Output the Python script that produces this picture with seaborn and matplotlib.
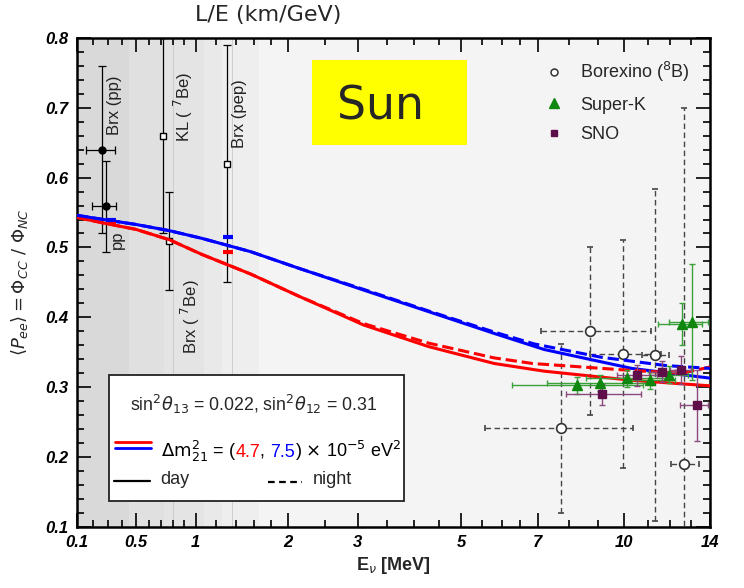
import matplotlib
matplotlib.use('Agg')
import matplotlib.pyplot as plt
import numpy as np
import pandas as pd
import seaborn as sns
from matplotlib.lines import Line2D
from matplotlib.patches import Rectangle
from matplotlib.transforms import IdentityTransform

sns.set_theme(style='ticks')
plt.rcParams['font.family'] = ['Liberation Sans', 'DejaVu Sans']
plt.rcParams['mathtext.fontset'] = 'dejavusans'

# 1. Data (E in MeV, P_ee)
# MSW curves, day (solid) and night (dashed)
day_E = [0.1, 0.27, 0.5, 0.77, 1.06, 1.56, 2.15, 3.1, 4.3, 5.8, 7.2, 10.3, 14.0]
red_day = [0.543, 0.535, 0.526, 0.511, 0.490, 0.462, 0.430, 0.389, 0.358, 0.334, 0.323, 0.310, 0.302]
blue_day = [0.546, 0.540, 0.533, 0.524, 0.513, 0.494, 0.470, 0.439, 0.408, 0.377, 0.354, 0.327, 0.313]

red_night_E = [0.1, 0.27, 0.5, 0.77, 1.06, 1.56, 2.15, 3.1, 4.3, 5.8, 6.85, 10.3, 12.55, 14.0]
red_night = [0.543, 0.535, 0.526, 0.511, 0.490, 0.462, 0.430, 0.391, 0.363, 0.342, 0.334, 0.324, 0.320, 0.329]
blue_night_E = [0.1, 0.27, 0.5, 0.77, 1.06, 1.56, 2.15, 3.1, 4.3, 5.8, 6.9, 9.1, 11.8, 14.0]
blue_night = [0.546, 0.540, 0.533, 0.524, 0.513, 0.494, 0.470, 0.440, 0.409, 0.379, 0.362, 0.343, 0.331, 0.327]

# averaged predictions at pp and pep (short thick bars)
pred_E = [0.32, 1.315]
pred_xerr = [0.035, 0.05]
pred_red = [0.536, 0.493]
pred_blue = [0.540, 0.5155]

# Borexino pp (filled circles)
pp_E = [0.258, 0.29]
pp_P = [0.640, 0.559]
pp_yerr = [0.12, 0.065]
pp_xlo = [0.10, 0.094]
pp_xhi = [0.09, 0.07]

# KamLAND 7Be, Borexino 7Be, Borexino pep (open squares)
sq_E = [0.716, 0.765, 1.31]
sq_P = [0.660, 0.509, 0.620]
sq_yerr = [0.14, 0.07, 0.17]

# Borexino 8B
bx_E = [8.70, 9.95, 7.74, 12.65, 11.32]
bx_P = [0.380, 0.348, 0.241, 0.190, 0.346]
bx_yerr = [0.12, 0.163, 0.121, 0.51, 0.238]
bx_xlo = [1.59, 1.23, 2.17, 0.61, 0.6]
bx_xhi = [2.44, 1.63, 2.61, 0.76, 0.6]

# Super-K
sk_E = [8.26, 9.08, 10.1, 11.07, 11.92, 12.54, 13.05]
sk_P = [0.303, 0.306, 0.313, 0.310, 0.318, 0.390, 0.393]
sk_yerr = [0.012, 0.012, 0.012, 0.012, 0.012, 0.030, 0.083]
sk_xlo = [2.0, 1.78, 1.55, 1.06, 0.85, 1.10, 1.09]
sk_xhi = [2.5, 2.1, 1.8, 1.15, 0.92, 1.01, 0.85]

# SNO
sno_E = [9.16, 10.51, 11.63, 12.5, 13.31]
sno_P = [0.290, 0.317, 0.322, 0.325, 0.274]
sno_yerr = [0.015, 0.015, 0.015, 0.02, 0.051]
sno_xlo = [1.26, 0.8, 0.6, 0.5, 0.86]
sno_xhi = [1.53, 0.9, 0.6, 0.5, 0.56]

# shaded energy bands (low-energy region)
band_edges = [0.1, 0.45, 0.72, 1.08, 1.26, 1.65]
band_colors = ['#d9d9d9', '#e0e0e0', '#e4e4e4', '#e9e9e9', '#eeeeee']
guide_E = [0.80, 1.36]

x_ticks = [0.1, 0.5, 1, 2, 3, 5, 7, 10, 14]
x_ticklabels = ['0.1', '0.5', '1', '2', '3', '5', '7', '10', '14']
x_minor = [0.2, 0.3, 0.4, 0.6, 0.7, 0.8, 0.9, 1.2, 1.4, 1.6, 1.8, 2.5,
           3.5, 4, 4.5, 5.5, 6, 6.5, 8, 9, 11, 12, 13]
y_ticks = [0.1, 0.2, 0.3, 0.4, 0.5, 0.6, 0.7, 0.8]

dm_values = ['4.7', '7.5']


# 2. Axis scale: roughly logarithmic, compressed at low energy
def fwd(e):
    return np.log10(np.maximum(np.asarray(e, dtype=float) + 1.7, 1e-9))


def inv(v):
    return 10 ** np.asarray(v, dtype=float) - 1.7


fig = plt.figure(figsize=(7.44, 5.88), dpi=100)
fig.patch.set_facecolor('white')
ax = fig.add_axes([0.1035, 0.1037, 0.851, 0.832])
ax.set_xscale('function', functions=(fwd, inv))
ax.set_xlim(0.1, 14)
ax.set_ylim(0.1, 0.8)
ax.set_facecolor('#f4f4f4')

for lo, hi, c in zip(band_edges[:-1], band_edges[1:], band_colors):
    ax.axvspan(lo, hi, color=c, lw=0, zorder=0)
for e in guide_E:
    ax.axvline(e, color='#cdcdcd', lw=0.7, zorder=0.5)

# 3. Data points
eb = ax.errorbar(bx_E, bx_P, xerr=[bx_xlo, bx_xhi], yerr=bx_yerr, fmt='o', ms=7,
                 mfc='white', mec='#333333', mew=1.2, ecolor='#444444',
                 elinewidth=1.0, capsize=2.5, capthick=1.0, zorder=2)
for lc in eb[2]:
    lc.set_linestyle((0, (4, 2.5)))

ax.errorbar(pp_E, pp_P, xerr=[pp_xlo, pp_xhi], yerr=pp_yerr, fmt='o', ms=5,
            color='black', elinewidth=0.9, capsize=3, capthick=0.9, zorder=2)
ax.errorbar(sq_E, sq_P, yerr=sq_yerr, fmt='s', ms=4.5, mfc='white', mec='black',
            ecolor='black', elinewidth=0.9, capsize=3, capthick=0.9, zorder=2)

# 4. Curves
curves = [
    (day_E, red_day, 'red', '-'),
    (day_E, blue_day, 'blue', '-'),
    (red_night_E, red_night, 'red', '--'),
    (blue_night_E, blue_night, 'blue', '--'),
]
for xs, ys, col, ls in curves:
    sns.lineplot(x=xs, y=ys, color=col, linestyle=ls, lw=2.2, ax=ax, zorder=3,
                 sort=False)

ax.errorbar(pred_E, pred_red, xerr=pred_xerr, fmt='none', ecolor='red',
            elinewidth=3, zorder=3.5)
ax.errorbar(pred_E, pred_blue, xerr=pred_xerr, fmt='none', ecolor='blue',
            elinewidth=3, zorder=3.5)

ax.errorbar(sk_E, sk_P, xerr=[sk_xlo, sk_xhi], yerr=sk_yerr, fmt='^', ms=6.5,
            color='#0f870f', ecolor='#3aa03a', elinewidth=1.0, capsize=2.5,
            capthick=1.0, zorder=4)
ax.errorbar(sno_E, sno_P, xerr=[sno_xlo, sno_xhi], yerr=sno_yerr, fmt='s', ms=6,
            color='#5e0f4a', ecolor='#8a4a7c', elinewidth=1.0, capsize=2.5,
            capthick=1.0, zorder=4)

# vertical experiment labels
lab_kw = dict(rotation=90, ha='center', fontsize=12, color='#222222', zorder=2)
ax.text(0.345, 0.661, 'Brx (pp)', va='bottom', **lab_kw)
ax.text(0.887, 0.651, r'KL ( $^{7}$Be)', va='bottom', **lab_kw)
ax.text(1.44, 0.643, 'Brx (pep)', va='bottom', **lab_kw)
ax.text(0.37, 0.525, 'pp', va='top', **lab_kw)
ax.text(0.95, 0.455, r'Brx ( $^{7}$Be)', va='top', **lab_kw)

# 5. Axes styling
ax.set_xticks(x_ticks)
ax.set_xticklabels(x_ticklabels, fontweight='bold', fontstyle='italic', fontsize=12)
ax.set_xticks(x_minor, minor=True)
ax.set_yticks(y_ticks)
ax.set_yticklabels([f'{v:.1f}' for v in y_ticks], fontweight='bold',
                   fontstyle='italic', fontsize=12)
ax.set_yticks(np.round(np.arange(0.1, 0.801, 0.02), 2), minor=True)
ax.tick_params(which='both', direction='in', top=True, right=True, width=1.2,
               colors='black')
ax.tick_params(which='major', length=10, pad=6)
ax.tick_params(which='minor', length=5)
for s in ax.spines.values():
    s.set_linewidth(1.8)
    s.set_color('black')

ax.set_xlabel(r'E$_\nu$ [MeV]', fontsize=13, fontweight='bold')
ax.xaxis.set_label_coords(0.5, -0.058)
ax.set_ylabel(r'$\langle P_{ee}\rangle = \Phi_{CC}\ /\ \Phi_{NC}$', fontsize=13)
ax.yaxis.set_label_coords(-0.075, 0.5)

# legend of experiments
handles = [
    Line2D([], [], ls='none', marker='o', ms=5, mfc='white', mec='#333333', mew=1.1),
    Line2D([], [], ls='none', marker='^', ms=6.5, color='#0f870f'),
    Line2D([], [], ls='none', marker='s', ms=5, color='#5e0f4a'),
]
leg = ax.legend(handles, [r'Borexino ($^{8}$B)', 'Super-K', 'SNO'],
                loc='upper left', bbox_to_anchor=(0.737, 0.955), frameon=False,
                fontsize=13, handlelength=1.2, handletextpad=0.8,
                labelspacing=0.7, borderpad=0, borderaxespad=0)

# 6. Inner parameter box
ax.add_patch(Rectangle((0.05, 0.053), 0.467, 0.257, transform=ax.transAxes,
                       facecolor='white', edgecolor='#222222', lw=1.3, zorder=6))
ax.text(0.2794, 0.237, r'sin$^2\theta_{13}$ = 0.022, sin$^2\theta_{12}$ = 0.31',
        transform=ax.transAxes, ha='center', va='baseline', fontsize=12.8, zorder=7)
ax.add_line(Line2D([0.06, 0.117], [0.173, 0.173], transform=ax.transAxes,
                   color='red', lw=2, zorder=7))
ax.add_line(Line2D([0.06, 0.117], [0.162, 0.162], transform=ax.transAxes,
                   color='blue', lw=2, zorder=7))
ax.add_line(Line2D([0.059, 0.115], [0.095, 0.095], transform=ax.transAxes,
                   color='black', lw=1.6, zorder=7))
ax.add_line(Line2D([0.302, 0.355], [0.093, 0.093], transform=ax.transAxes,
                   color='black', lw=1.6, ls=(0, (3, 2)), zorder=7))
ax.text(0.131, 0.087, 'day', transform=ax.transAxes, va='baseline', fontsize=13, zorder=7)
ax.text(0.373, 0.088, 'night', transform=ax.transAxes, va='baseline', fontsize=13, zorder=7)

renderer = fig.canvas.get_renderer()
xpix, ypix = ax.transAxes.transform((0.132, 0.144))
pieces = [(r'$\Delta\mathrm{m}^2_{21}$ = (', 'black'), (dm_values[0], 'red'), (', ', 'black'),
          (dm_values[1], 'blue'), (r') $\times$ 10$^{-5}$ eV$^2$', 'black')]
for s, c in pieces:
    t = ax.text(xpix, ypix, s, transform=IdentityTransform(), color=c,
                va='baseline', ha='left', fontsize=13, zorder=7)
    xpix = t.get_window_extent(renderer).x1

# 7. Overlays outside the plot
fig.text(268 / 744, 1 - 21 / 588, 'L/E (km/GeV)', ha='center', va='baseline',
         fontsize=16, family='DejaVu Sans')
fig.patches.append(Rectangle((312 / 744, 1 - 145 / 588), 155 / 744, 85 / 588,
                             transform=fig.transFigure, facecolor='#ffff00',
                             edgecolor='none', zorder=10))
fig.text(381 / 744, 1 - 107 / 588, 'Sun', ha='center', va='center', fontsize=33,
         family='DejaVu Sans', zorder=11)

fig.savefig('out.png', dpi=100)
